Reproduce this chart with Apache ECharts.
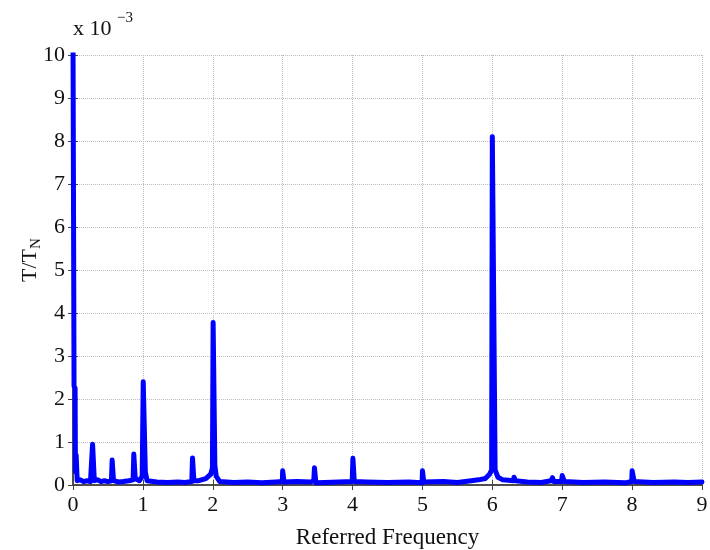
<!DOCTYPE html>
<html>
<head>
<meta charset="utf-8">
<script src="https://cdn.jsdelivr.net/npm/echarts@6/dist/echarts.min.js"></script>
<style>html,body{margin:0;padding:0;background:#fff;}#chart{width:710px;height:550px;}</style>
</head>
<body>
<div id="chart"></div>
<script>
const xTicks = [0,1,2,3,4,5,6,7,8,9];
const yTicks = [0,1,2,3,4,5,6,7,8,9,10];
const freq = [
  0, 0.01, 0.015, 0.03, 0.035, 0.045, 0.055, 0.06, 0.1, 0.15, 0.2, 0.25, 0.275, 0.28, 0.3, 0.305,
  0.35, 0.4, 0.45, 0.5, 0.55, 0.56, 0.575, 0.58, 0.65, 0.72, 0.8, 0.86, 0.87, 0.885, 0.89, 0.95,
  0.99, 1.005, 1.025, 1.035, 1.06, 1.2, 1.35, 1.5, 1.6, 1.7, 1.71, 1.725, 1.73, 1.8, 1.9, 1.97,
  1.995, 2.005, 2.025, 2.03, 2.05, 2.1, 2.3, 2.5, 2.7, 2.9, 2.995, 3.0, 3.015, 3.02, 3.2, 3.4,
  3.445, 3.455, 3.47, 3.475, 3.6, 3.8, 3.995, 4.005, 4.02, 4.025, 4.2, 4.5, 4.8, 4.995, 5.0, 5.015,
  5.02, 5.3, 5.5, 5.7, 5.8, 5.9, 5.96, 5.99, 6.0, 6.02, 6.04, 6.08, 6.15, 6.3, 6.31, 6.33,
  6.5, 6.7, 6.84, 6.86, 6.88, 6.99, 7.0, 7.015, 7.03, 7.3, 7.6, 7.9, 7.995, 8.0, 8.015, 8.03,
  8.3, 8.6, 8.8, 9.0
];
const torque = [
  10.5, 10.5, 2.3, 2.25, 0.3, 0.7, 0.7, 0.1, 0.12, 0.08, 0.1, 0.08, 0.1, 0.95, 0.95, 0.1,
  0.12, 0.08, 0.1, 0.08, 0.1, 0.58, 0.58, 0.1, 0.07, 0.08, 0.1, 0.12, 0.72, 0.72, 0.15, 0.1,
  0.2, 2.4, 2.4, 0.3, 0.1, 0.07, 0.06, 0.07, 0.06, 0.08, 0.63, 0.63, 0.1, 0.1, 0.15, 0.25,
  0.4, 3.78, 3.78, 0.45, 0.2, 0.08, 0.06, 0.07, 0.05, 0.07, 0.08, 0.33, 0.33, 0.07, 0.08, 0.07,
  0.1, 0.4, 0.4, 0.05, 0.06, 0.07, 0.08, 0.62, 0.62, 0.08, 0.07, 0.06, 0.07, 0.05, 0.33, 0.33,
  0.07, 0.08, 0.06, 0.1, 0.12, 0.15, 0.25, 0.35, 8.1, 8.1, 0.35, 0.18, 0.12, 0.1, 0.18, 0.1,
  0.07, 0.06, 0.1, 0.17, 0.08, 0.08, 0.22, 0.2, 0.08, 0.06, 0.07, 0.05, 0.08, 0.33, 0.3, 0.08,
  0.06, 0.07, 0.06, 0.07
];
const xTitle = 'Referred Frequency';
const yTitleMain = 'T/T';
const yTitleSub = 'N';
const scaleBase = 'x 10';
const scaleExp = '\u22123';

const FONT = '"Liberation Serif", "Times New Roman", serif';
const AX = '#444';
const data = freq.map((f, i) => [f, torque[i]]);

const chart = echarts.init(document.getElementById('chart'), null, {renderer: 'canvas'});
chart.setOption({
  animation: false,
  backgroundColor: '#fff',
  grid: {left: 73, right: 8, top: 55, bottom: 65, containLabel: false, outerBoundsMode: 'none'},
  xAxis: [{
    type: 'value', min: xTicks[0], max: xTicks[xTicks.length - 1], interval: 1,
    name: xTitle, nameLocation: 'middle', nameGap: 41,
    nameTextStyle: {fontFamily: FONT, fontSize: 23, color: '#111'},
    axisLine: {onZero: false, lineStyle: {color: AX, width: 1.5}},
    axisTick: {inside: true, length: 5, lineStyle: {color: AX}},
    axisLabel: {fontFamily: FONT, fontSize: 22, color: '#111', margin: 9},
    splitLine: {show: true, lineStyle: {color: '#bdbdbd', type: 'dotted', width: 1}}
  }, {
    type: 'value', position: 'top', min: xTicks[0], max: xTicks[xTicks.length - 1], interval: 1,
    axisLine: {show: true, lineStyle: {color: AX, width: 1.5}},
    axisTick: {inside: true, length: 5, lineStyle: {color: AX}},
    axisLabel: {show: false}, splitLine: {show: false}
  }],
  yAxis: [{
    type: 'value', min: yTicks[0], max: yTicks[yTicks.length - 1], interval: 1,
    axisLine: {show: true, lineStyle: {color: AX, width: 1.5}},
    axisTick: {show: true, inside: true, length: 5, lineStyle: {color: AX}},
    axisLabel: {fontFamily: FONT, fontSize: 22, color: '#111', margin: 8},
    splitLine: {show: true, lineStyle: {color: '#bdbdbd', type: 'dotted', width: 1}}
  }, {
    type: 'value', position: 'right', min: yTicks[0], max: yTicks[yTicks.length - 1], interval: 1,
    axisLine: {show: true, lineStyle: {color: AX, width: 1.5}},
    axisTick: {show: true, inside: true, length: 5, lineStyle: {color: AX}},
    axisLabel: {show: false}, splitLine: {show: false}
  }],
  graphic: [
    {type: 'text', left: 73, top: 18, style: {text: scaleBase, font: '22px ' + FONT, fill: '#111'}},
    {type: 'text', left: 117, top: 11, style: {text: scaleExp, font: '15px ' + FONT, fill: '#111'}},
    {type: 'group', x: 30, y: 282, rotation: Math.PI / 2, children: [
      {type: 'text', x: 0, y: 0, style: {text: yTitleMain, font: '22px ' + FONT, fill: '#111', align: 'left', verticalAlign: 'middle'}},
      {type: 'text', x: 33, y: 6, style: {text: yTitleSub, font: '15px ' + FONT, fill: '#111', align: 'left', verticalAlign: 'middle'}}
    ]}
  ],
  series: [{
    type: 'line', data: data, xAxisIndex: 0, yAxisIndex: 0,
    showSymbol: false, symbol: 'none', clip: true,
    lineStyle: {color: '#0000ff', width: 5, join: 'round', cap: 'round'}
  }]
});
</script>
</body>
</html>
